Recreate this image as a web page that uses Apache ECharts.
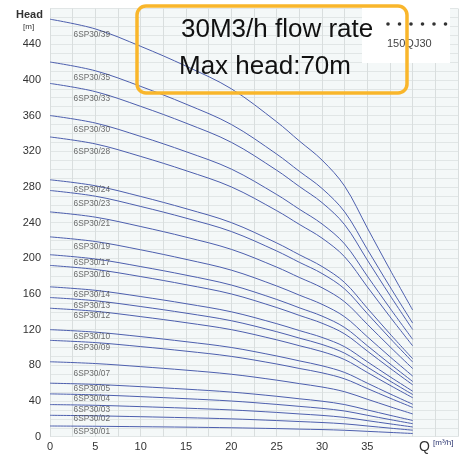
<!DOCTYPE html>
<html>
<head>
<meta charset="utf-8">
<script src="https://cdn.jsdelivr.net/npm/echarts@6/dist/echarts.min.js"></script>
<style>
html,body{margin:0;padding:0;background:#fff;}
#c{width:461px;height:456px;}
</style>
</head>
<body>
<div id="c"></div>
<script>
// Flow rate sample points (m3/h)
const flowQ = [0, 5, 10, 15, 20, 25, 27.5, 30, 32.5, 35, 37.5, 40];

// Pump models (curve names)
const models = ['6SP30/01','6SP30/02','6SP30/03','6SP30/04','6SP30/05','6SP30/07','6SP30/09','6SP30/10',
  '6SP30/12','6SP30/13','6SP30/14','6SP30/16','6SP30/17','6SP30/19','6SP30/21','6SP30/23','6SP30/24',
  '6SP30/28','6SP30/30','6SP30/33','6SP30/35','6SP30/39'];

// Head values (m), one array per model
const head01 = [12, 11.7, 11.2, 10.7, 10, 9.1, 8.5, 8, 7.2, 6, 4.8, 3.6];
const head02 = [24, 23.4, 22.4, 21.3, 20, 18.1, 17, 15.9, 14.4, 12, 9.6, 7.3];
const head03 = [36, 35.2, 33.7, 32, 30, 27.2, 25.5, 23.9, 21.6, 18, 14.4, 10.9];
const head04 = [48, 46.9, 44.9, 42.6, 40, 36.2, 34, 31.8, 28.8, 24, 19.2, 14.6];
const head05 = [60, 58.6, 56.1, 53.3, 50, 45.3, 42.5, 39.8, 36, 30, 24, 18.2];
const head07 = [84, 82, 78.5, 74.6, 70, 63.4, 59.5, 55.7, 50.4, 42, 33.6, 25.5];
const head09 = [108, 105.5, 101, 95.9, 90, 81.5, 76.5, 71.6, 64.8, 54, 43.2, 32.8];
const head10 = [120, 117.2, 112.2, 106.5, 100, 90.5, 85, 79.5, 72, 60, 48, 36.4];
const head12 = [144, 140.6, 134.6, 127.8, 120, 108.6, 102, 95.4, 86.4, 72, 57.6, 43.7];
const head13 = [156, 152.4, 145.9, 138.5, 130, 117.7, 110.5, 103.4, 93.6, 78, 62.4, 47.3];
const head14 = [168, 164.1, 157.1, 149.1, 140, 126.7, 119, 111.3, 100.8, 84, 67.2, 51];
const head16 = [192, 187.5, 179.5, 170.4, 160, 144.8, 136, 127.2, 115.2, 96, 76.8, 58.2];
const head17 = [204, 199.2, 190.7, 181.1, 170, 153.9, 144.5, 135.2, 122.4, 102, 81.6, 61.9];
const head19 = [224, 218.8, 209.5, 198.8, 186.7, 169, 158.7, 148.4, 134.4, 112, 89.6, 68];
const head21 = [252, 246.1, 235.6, 223.7, 210, 190.1, 178.5, 167, 151.2, 126, 100.8, 76.4];
const head23 = [276, 269.6, 258.1, 245, 230, 208.2, 195.5, 182.9, 165.6, 138, 110.4, 83.7];
const head24 = [288, 281.3, 269.3, 255.6, 240, 217.2, 204, 190.8, 172.8, 144, 115.2, 87.4];
const head28 = [336, 328.2, 314.2, 298.2, 280, 253.4, 238, 222.6, 201.6, 168, 134.4, 101.9];
const head30 = [360, 351.6, 336.6, 319.5, 300, 271.5, 255, 238.5, 216, 180, 144, 109.2];
const head33 = [396, 386.8, 370.3, 351.5, 330, 298.7, 280.5, 262.4, 237.6, 198, 158.4, 120.1];
const head35 = [420, 410.2, 392.7, 372.8, 350, 316.8, 297.5, 278.3, 252, 210, 168, 127.4];
const head39 = [468, 457.1, 437.6, 415.4, 390, 353, 331.5, 310.1, 280.8, 234, 187.2, 142];

const curves = [head01, head02, head03, head04, head05, head07, head09, head10, head12, head13, head14,
  head16, head17, head19, head21, head23, head24, head28, head30, head33, head35, head39];

// Curve label anchor positions (Q and head)
const labelQ = 2.6;
const labelHeads = [5.6, 19.8, 30.7, 42.3, 54.3, 71.1, 100.2, 112.1, 135.3, 146.5, 158.9, 182.1, 195.1,
  213, 238.5, 260.9, 277.4, 319.5, 343.8, 379, 402.5, 450.3];

// Axis tick labels
const xTickLabels = [0, 5, 10, 15, 20, 25, 30, 35];
const yTickLabels = [0, 40, 80, 120, 160, 200, 240, 280, 320, 360, 400, 440];

const chart = echarts.init(document.getElementById('c'), null, {renderer: 'canvas'});

const series = curves.map((arr, i) => ({
  name: models[i],
  type: 'line',
  data: flowQ.map((q, j) => [q, arr[j]]),
  smooth: 0.35,
  showSymbol: false,
  symbol: 'none',
  lineStyle: {color: '#4d5fae', width: 1},
  silent: true,
  z: 3
}));

series.push({
  type: 'scatter',
  symbolSize: 0,
  silent: true,
  data: labelHeads.map((h, i) => ({value: [labelQ, h], name: models[i]})),
  label: {
    show: true,
    position: 'right',
    distance: 0,
    formatter: p => p.name,
    fontSize: 8.3,
    fontFamily: 'Liberation Sans, Arial, sans-serif',
    color: '#474747'
  },
  z: 4
});

const option = {
  animation: false,
  backgroundColor: '#ffffff',
  grid: {
    left: 50, right: 2.4, top: 8.5, bottom: 19.3,
    show: true, backgroundColor: '#f4f8f8', borderWidth: 0
  },
  xAxis: {
    type: 'value', min: 0, max: 45, interval: 2.5,
    axisLine: {show: false}, axisTick: {show: false},
    splitLine: {show: true, lineStyle: {color: '#d9dede', width: 1}},
    axisLabel: {
      margin: 5, fontSize: 11, color: '#333',
      fontFamily: 'Liberation Sans, Arial, sans-serif',
      formatter: v => xTickLabels.indexOf(v) >= 0 ? String(v) : ''
    }
  },
  yAxis: {
    type: 'value', min: 0, max: 480, interval: 10,
    axisLine: {show: false}, axisTick: {show: false},
    splitLine: {show: true, lineStyle: {color: '#e1e6e6', width: 1}},
    axisLabel: {
      margin: 9, fontSize: 11, color: '#333',
      fontFamily: 'Liberation Sans, Arial, sans-serif',
      formatter: v => yTickLabels.indexOf(v) >= 0 ? String(v) : ''
    }
  },
  series: series,
  graphic: [
    {type: 'rect', shape: {x: 362, y: 8, width: 88, height: 55}, style: {fill: '#ffffff'}, z: 10},
    {type: 'circle', shape: {cx: 388, cy: 24, r: 1.8}, style: {fill: '#333'}, z: 11},
    {type: 'circle', shape: {cx: 399.5, cy: 24, r: 1.8}, style: {fill: '#333'}, z: 11},
    {type: 'circle', shape: {cx: 411, cy: 24, r: 1.8}, style: {fill: '#333'}, z: 11},
    {type: 'circle', shape: {cx: 422.5, cy: 24, r: 1.8}, style: {fill: '#333'}, z: 11},
    {type: 'circle', shape: {cx: 434, cy: 24, r: 1.8}, style: {fill: '#333'}, z: 11},
    {type: 'circle', shape: {cx: 445.5, cy: 24, r: 1.8}, style: {fill: '#333'}, z: 11},
    {type: 'text', x: 387, y: 44, style: {text: '150QJ30', fontSize: 11, fill: '#444', verticalAlign: 'middle',
      fontFamily: 'Liberation Sans, Arial, sans-serif'}, z: 11},
    {type: 'rect', shape: {x: 137, y: 6, width: 270, height: 87, r: 9},
      style: {fill: 'rgba(0,0,0,0)', stroke: '#f9b62b', lineWidth: 3.5}, z: 12},
    {type: 'text', x: 181, y: 30, style: {text: '30M3/h flow rate', fontSize: 26, fill: '#111', verticalAlign: 'middle',
      fontFamily: 'Liberation Sans, Arial, sans-serif'}, z: 13},
    {type: 'text', x: 179, y: 66.5, style: {text: 'Max head:70m', fontSize: 26, fill: '#111', verticalAlign: 'middle',
      fontFamily: 'Liberation Sans, Arial, sans-serif'}, z: 13},
    {type: 'text', x: 16, y: 15, style: {text: 'Head', fontSize: 11, fontWeight: 'bold', fill: '#333', verticalAlign: 'middle',
      fontFamily: 'Liberation Sans, Arial, sans-serif'}, z: 13},
    {type: 'text', x: 23, y: 27, style: {text: '[m]', fontSize: 8, fill: '#333', verticalAlign: 'middle',
      fontFamily: 'Liberation Sans, Arial, sans-serif'}, z: 13},
    {type: 'text', x: 419, y: 447, style: {text: 'Q', fontSize: 14, fill: '#333', verticalAlign: 'middle',
      fontFamily: 'Liberation Sans, Arial, sans-serif'}, z: 13},
    {type: 'text', x: 433, y: 443, style: {text: '[m³/h]', fontSize: 8, fill: '#2b3570', verticalAlign: 'middle',
      fontFamily: 'Liberation Sans, Arial, sans-serif'}, z: 13}
  ]
};
chart.setOption(option);
</script>
</body>
</html>
